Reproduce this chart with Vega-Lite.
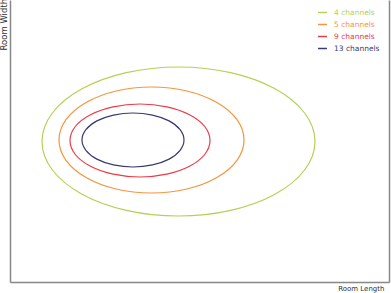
{
  "$schema": "https://vega.github.io/schema/vega-lite/v6.json",
  "autosize": "none",
  "width": 379,
  "height": 282,
  "padding": {"left": 10, "top": 0, "right": 2, "bottom": 11},
  "config": {"view": {"stroke": null}, "font": "DejaVu Sans"},
  "data": {"values": [
    {"s": "4 channels", "k": 0, "x": 305, "y": 140.5},
    {"s": "4 channels", "k": 1, "x": 294.6, "y": 169},
    {"s": "4 channels", "k": 2, "x": 265, "y": 193.2},
    {"s": "4 channels", "k": 3, "x": 220.7, "y": 209.3},
    {"s": "4 channels", "k": 4, "x": 168.5, "y": 215},
    {"s": "4 channels", "k": 5, "x": 116.3, "y": 209.3},
    {"s": "4 channels", "k": 6, "x": 72, "y": 193.2},
    {"s": "4 channels", "k": 7, "x": 42.4, "y": 169},
    {"s": "4 channels", "k": 8, "x": 32, "y": 140.5},
    {"s": "4 channels", "k": 9, "x": 42.4, "y": 112},
    {"s": "4 channels", "k": 10, "x": 72, "y": 87.8},
    {"s": "4 channels", "k": 11, "x": 116.3, "y": 71.7},
    {"s": "4 channels", "k": 12, "x": 168.5, "y": 66},
    {"s": "4 channels", "k": 13, "x": 220.7, "y": 71.7},
    {"s": "4 channels", "k": 14, "x": 265, "y": 87.8},
    {"s": "4 channels", "k": 15, "x": 294.6, "y": 112},
    {"s": "5 channels", "k": 0, "x": 234, "y": 142},
    {"s": "5 channels", "k": 1, "x": 227, "y": 162.3},
    {"s": "5 channels", "k": 2, "x": 206.9, "y": 179.5},
    {"s": "5 channels", "k": 3, "x": 176.9, "y": 191},
    {"s": "5 channels", "k": 4, "x": 141.5, "y": 195},
    {"s": "5 channels", "k": 5, "x": 106.1, "y": 191},
    {"s": "5 channels", "k": 6, "x": 76.1, "y": 179.5},
    {"s": "5 channels", "k": 7, "x": 56, "y": 162.3},
    {"s": "5 channels", "k": 8, "x": 49, "y": 142},
    {"s": "5 channels", "k": 9, "x": 56, "y": 121.7},
    {"s": "5 channels", "k": 10, "x": 76.1, "y": 104.5},
    {"s": "5 channels", "k": 11, "x": 106.1, "y": 93},
    {"s": "5 channels", "k": 12, "x": 141.5, "y": 89},
    {"s": "5 channels", "k": 13, "x": 176.9, "y": 93},
    {"s": "5 channels", "k": 14, "x": 206.9, "y": 104.5},
    {"s": "5 channels", "k": 15, "x": 227, "y": 121.7},
    {"s": "9 channels", "k": 0, "x": 200, "y": 141.5},
    {"s": "9 channels", "k": 1, "x": 194.7, "y": 155.5},
    {"s": "9 channels", "k": 2, "x": 179.5, "y": 167.3},
    {"s": "9 channels", "k": 3, "x": 156.8, "y": 175.2},
    {"s": "9 channels", "k": 4, "x": 130, "y": 178},
    {"s": "9 channels", "k": 5, "x": 103.2, "y": 175.2},
    {"s": "9 channels", "k": 6, "x": 80.5, "y": 167.3},
    {"s": "9 channels", "k": 7, "x": 65.3, "y": 155.5},
    {"s": "9 channels", "k": 8, "x": 60, "y": 141.5},
    {"s": "9 channels", "k": 9, "x": 65.3, "y": 127.5},
    {"s": "9 channels", "k": 10, "x": 80.5, "y": 115.7},
    {"s": "9 channels", "k": 11, "x": 103.2, "y": 107.8},
    {"s": "9 channels", "k": 12, "x": 130, "y": 105},
    {"s": "9 channels", "k": 13, "x": 156.8, "y": 107.8},
    {"s": "9 channels", "k": 14, "x": 179.5, "y": 115.7},
    {"s": "9 channels", "k": 15, "x": 194.7, "y": 127.5},
    {"s": "13 channels", "k": 0, "x": 174, "y": 142},
    {"s": "13 channels", "k": 1, "x": 170.1, "y": 152.3},
    {"s": "13 channels", "k": 2, "x": 159.1, "y": 161.1},
    {"s": "13 channels", "k": 3, "x": 142.5, "y": 166.9},
    {"s": "13 channels", "k": 4, "x": 123, "y": 169},
    {"s": "13 channels", "k": 5, "x": 103.5, "y": 166.9},
    {"s": "13 channels", "k": 6, "x": 86.9, "y": 161.1},
    {"s": "13 channels", "k": 7, "x": 75.9, "y": 152.3},
    {"s": "13 channels", "k": 8, "x": 72, "y": 142},
    {"s": "13 channels", "k": 9, "x": 75.9, "y": 131.7},
    {"s": "13 channels", "k": 10, "x": 86.9, "y": 122.9},
    {"s": "13 channels", "k": 11, "x": 103.5, "y": 117.1},
    {"s": "13 channels", "k": 12, "x": 123, "y": 115},
    {"s": "13 channels", "k": 13, "x": 142.5, "y": 117.1},
    {"s": "13 channels", "k": 14, "x": 159.1, "y": 122.9},
    {"s": "13 channels", "k": 15, "x": 170.1, "y": 131.7}
  ]},
  "encoding": {
    "x": {"field": "x", "type": "quantitative", "scale": {"domain": [0, 379], "nice": false, "zero": false},
      "axis": {"title": "Room Length", "labels": false, "ticks": false, "grid": false, "domainColor": "#888", "domainWidth": 1.5,
        "titleX": 374, "titleAlign": "right", "titleFontSize": 7, "titleFontWeight": "normal", "titleColor": "#333", "titlePadding": 2}}
  },
  "layer": [
    {
      "mark": {"type": "line", "interpolate": "cardinal-closed", "strokeWidth": 1.2},
      "encoding": {
        "y": {"field": "y", "type": "quantitative", "scale": {"domain": [0, 282], "nice": false, "zero": false},
          "axis": {"title": "Room Width", "labels": false, "ticks": false, "grid": false, "domainColor": "#888", "domainWidth": 1.5,
            "titleY": 50, "titleAlign": "left", "titleFontSize": 8.5, "titleFontWeight": "normal", "titleColor": "#333", "titlePadding": 2}},
        "color": {"field": "s", "type": "nominal",
          "scale": {"domain": ["4 channels", "5 channels", "9 channels", "13 channels"], "range": ["#b3d155", "#f7943d", "#ec3b48", "#3a3c6e"]},
          "legend": {"title": null, "orient": "none", "legendX": 307, "legendY": 7, "symbolType": "stroke", "symbolSize": 80, "symbolStrokeWidth": 1.5,
            "labelFontSize": 7.5, "rowPadding": 3, "symbolOffset": 0, "labelOffset": 6,
            "encode": {"labels": {"update": {"fill": {"scale": "color", "field": "value"}}}}}},
        "order": {"field": "k", "type": "quantitative"}
      }
    },
    {
      "mark": {"type": "line", "opacity": 0},
      "encoding": {
        "y": {"field": "y", "type": "quantitative",
          "axis": {"orient": "right", "title": null, "labels": false, "ticks": false, "grid": false, "domainColor": "#888", "domainWidth": 1.5}},
        "detail": {"field": "s"}
      }
    }
  ],
  "resolve": {"axis": {"y": "independent"}}
}
